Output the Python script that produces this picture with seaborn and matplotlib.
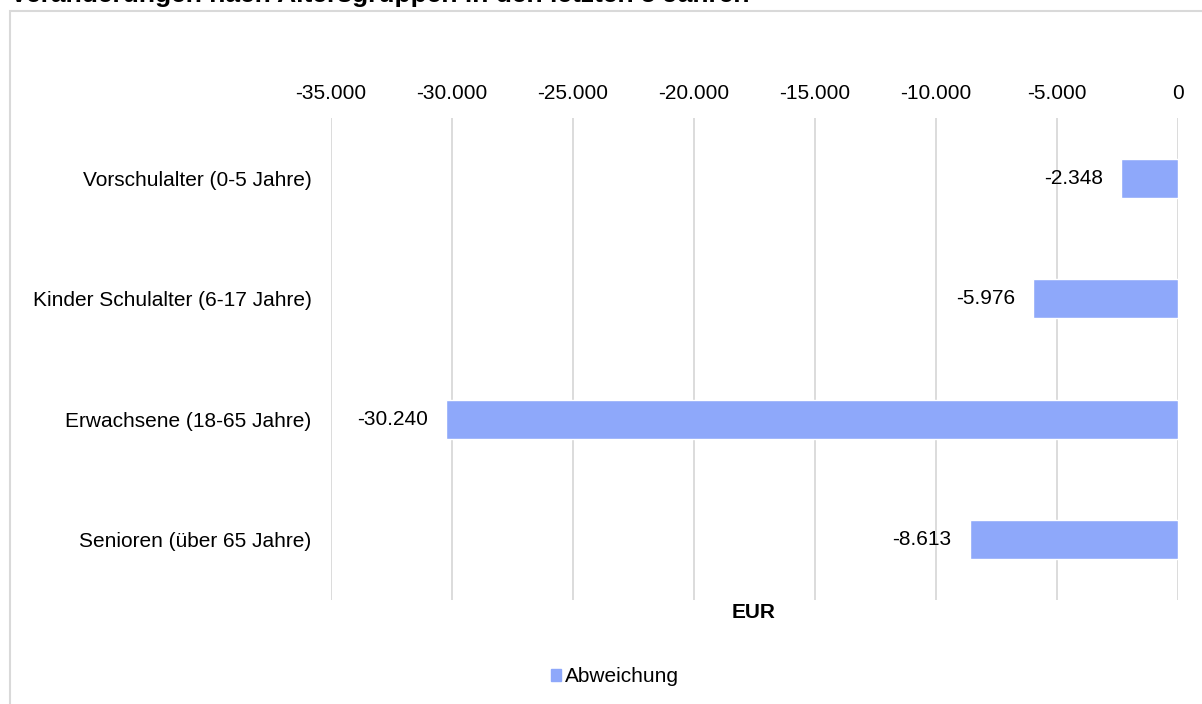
import matplotlib
matplotlib.use("Agg")
import matplotlib.pyplot as plt
import matplotlib.patches as mpatches
from matplotlib.ticker import FuncFormatter
import seaborn as sns
import pandas as pd

# data
categories = [
    "Vorschulalter (0-5 Jahre)",
    "Kinder Schulalter (6-17 Jahre)",
    "Erwachsene (18-65 Jahre)",
    "Senioren (über 65 Jahre)",
]
abweichung = [-2348, -5976, -30240, -8613]
x_ticks = [-35000, -30000, -25000, -20000, -15000, -10000, -5000, 0]

title = "Veränderungen nach Altersgruppen in den letzten 5 Jahren"
bar_color = "#8EA8FA"
grid_color = "#D9D9D9"


def de_fmt(v, pos=None):
    return f"{v:,.0f}".replace(",", ".")


sns.set_theme(style="white")
plt.rcParams["font.family"] = ["Liberation Sans", "DejaVu Sans"]
plt.rcParams["text.color"] = "black"

df = pd.DataFrame({"Kategorie": categories, "Abweichung": abweichung})

fig = plt.figure(figsize=(12.02, 7.04), dpi=100)
ax = fig.add_axes([331 / 1202, 1 - 600 / 704, (1178 - 331) / 1202, (600 - 118) / 704])

sns.barplot(data=df, x="Abweichung", y="Kategorie", color=bar_color,
            width=0.32, saturation=1, ax=ax)

ax.set_xlim(-35000, 0)
ax.set_ylim(3.5, -0.5)
ax.set_xticks(x_ticks)
ax.xaxis.set_major_formatter(FuncFormatter(de_fmt))
ax.xaxis.tick_top()
ax.tick_params(axis="x", length=0, pad=11, labelsize=15, colors="black")
ax.tick_params(axis="y", length=0, pad=14, labelsize=15, colors="black")
ax.grid(axis="x", color=grid_color, linewidth=1.3)
ax.set_axisbelow(True)
for s in ax.spines.values():
    s.set_visible(False)
ax.set_ylabel("")
ax.set_xlabel("")

# data labels to the left of the bar end
for i, v in enumerate(abweichung):
    ax.annotate(de_fmt(v), xy=(v, i), xytext=(-13, 0), textcoords="offset points",
                ha="right", va="center", fontsize=15, color="black")

fig.text(754 / 1202, 1 - 613 / 704, "EUR", ha="center", va="center",
         fontsize=15, fontweight="bold", color="black")

handle = mpatches.Patch(color=bar_color, label="Abweichung")
fig.legend(handles=[handle], loc="center", bbox_to_anchor=(615 / 1202, 1 - 677 / 704),
           frameon=False, fontsize=15, handlelength=0.5, handleheight=0.5,
           handletextpad=0.2, labelcolor="black")

# outer chart border, running off the right and bottom edges
fig.patches.append(mpatches.Rectangle((10 / 1202, -0.1), 1.2, 1 - 11 / 704 + 0.1,
                                      transform=fig.transFigure, fill=False,
                                      edgecolor=grid_color, linewidth=1.5))

# title, mostly cut off by the top edge as in the reference
fig.text(10 / 1202, 1 - 2 / 704, title, ha="left", va="baseline",
         fontsize=19, fontweight="bold", color="black")

fig.savefig("out.png", dpi=100)
